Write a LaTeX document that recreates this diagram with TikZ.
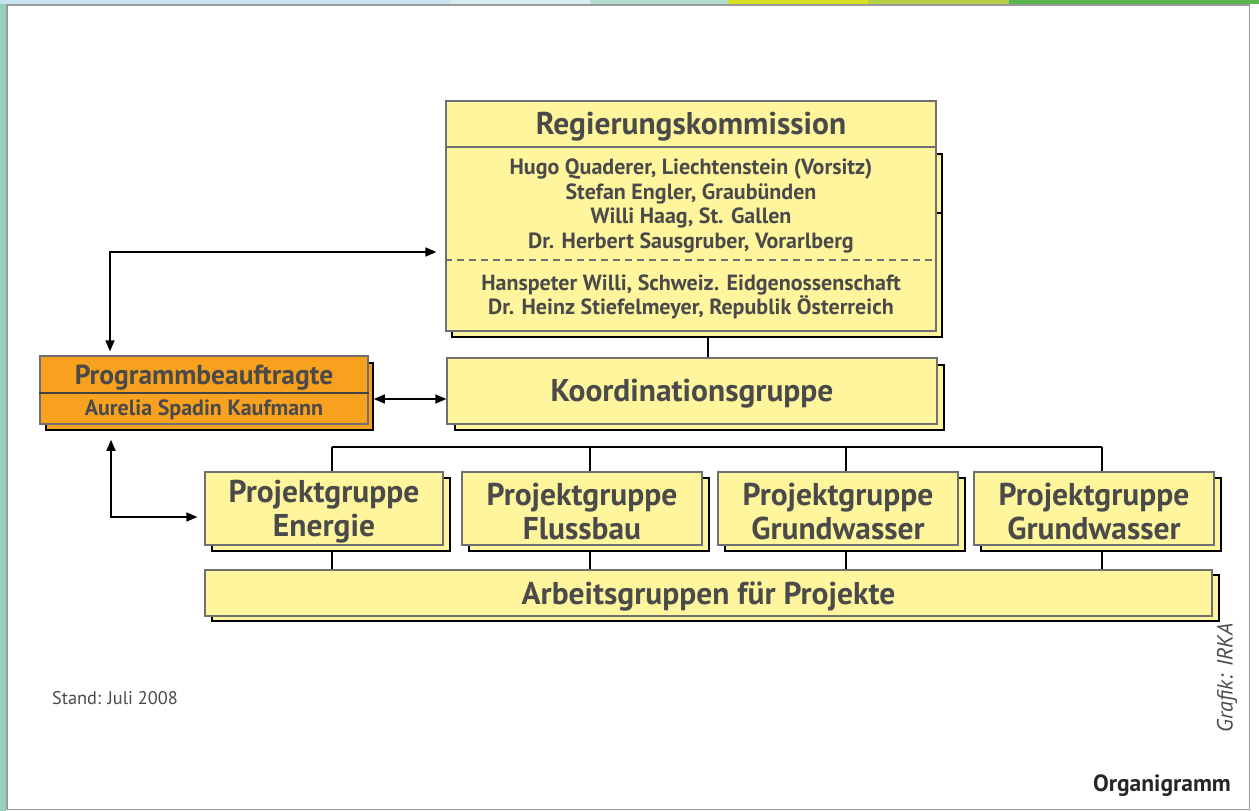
\documentclass[tikz,border=0pt]{standalone}
\usepackage{fontspec}
\setmainfont{PT Sans}
\usetikzlibrary{arrows.meta}

\definecolor{gelb}{HTML}{FFF59D}
\definecolor{progorange}{HTML}{F7A11E}
\definecolor{schrift}{HTML}{4A4A4A}
\definecolor{rand}{HTML}{707070}
\definecolor{rahmen}{HTML}{9A9A9A}
\definecolor{mint}{HTML}{99CFB6}
\definecolor{balken1}{HTML}{C8E4F2}
\definecolor{balken2}{HTML}{C7E3EE}
\definecolor{balken3}{HTML}{D9ECEF}
\definecolor{balken4}{HTML}{B2DCCB}
\definecolor{balken5}{HTML}{D7DF23}
\definecolor{balken6}{HTML}{B6CF44}
\definecolor{balken7}{HTML}{5BB54F}

\tikzset{
  kasten/.style={draw=rand, fill=gelb, line width=1.2pt, inner sep=0pt},
  schatten/.style={draw=black, fill=gelb, line width=1.6pt, inner sep=0pt},
  linie/.style={line width=1.5pt},
  gross/.style={font=\bfseries\fontsize{31.5}{34}\selectfont, text=schrift, align=center},
  mittel/.style={font=\bfseries\fontsize{27.5}{30}\selectfont, text=schrift},
  klein/.style={font=\bfseries\fontsize{22}{24.5}\selectfont, text=schrift, align=center},
}

\begin{document}
\begin{tikzpicture}[x=1pt, y=-1pt, >={Triangle[length=11pt,width=9pt]}]
		\useasboundingbox (0,0) rectangle (1259,811);
		
		%Rahmen
		\fill[mint] (0,0) rectangle (6,811);
		\foreach \a/\b/\f in {0/176/balken1,176/451/balken2,451/590/balken3,590/728/balken4,728/868/balken5,868/1009/balken6,1009/1259/balken7}
		\fill[\f] (\a,0) rectangle (\b,4);
		\draw[rahmen, line width=1.5pt] (7,5) rectangle (1249.5,809.5);
		
		%Regierungskommission
		\node[schatten, minimum width=490, minimum height=183] (sreg) at (697,245.5) {};
		\draw[line width=1.6pt] (936,213) -- (sreg.east |- 0,213);
		\node[kasten, minimum width=490, minimum height=230] (reg) at (691,216) {};
		\draw[rand, line width=1.2pt] (reg.west |- 0,147) -- (reg.east |- 0,147);
		\draw[rand, line width=1.2pt, dash pattern=on 7pt off 5pt] (reg.west |- 0,260) -- (reg.east |- 0,260);
		\node[gross] (regtitel) at (691,127) {Regierungskommission};
		\node[klein] (mitglieder) at (691,206) {Hugo Quaderer, Liechtenstein (Vorsitz)\\Stefan Engler, Graubünden\\Willi Haag, St. Gallen\\Dr. Herbert Sausgruber, Vorarlberg};
		\node[klein] (vertreter) at (691,297) {Hanspeter Willi, Schweiz. Eidgenossenschaft\\Dr. Heinz Stiefelmeyer, Republik Österreich};
		
		%Programmbeauftragte
		\node[schatten, fill=progorange, minimum width=327, minimum height=67] (sprog) at (209.5,396.5) {};
		\node[kasten, fill=progorange, minimum width=328, minimum height=68] (prog) at (204,390) {};
		\draw[rand!60!black, line width=1.2pt] (prog.west |- 0,393) -- (prog.east |- 0,393);
		\node[mittel] (progtitel) at (204,378) {Programmbeauftragte};
		\node[klein] (progname) at (204,410) {Aurelia Spadin Kaufmann};
		
		%Koordinationsgruppe
		\node[schatten, minimum width=489, minimum height=65] (skoord) at (699.5,397.5) {};
		\node[kasten, minimum width=490, minimum height=66] (koord) at (692,391) {};
		\node[gross] (koordtxt) at ([yshift=-3pt]koord.center) {Koordinationsgruppe};
		
		%Projektgruppen
		\node[schatten, minimum width=238, minimum height=73] (spg1) at (331,514.5) {};
		\node[kasten, minimum width=238, minimum height=73] (pg1) at (324,508.5) {};
		\node[gross] (pg1txt) at ([yshift=-3pt]pg1.center) {Projektgruppe\\Energie};
		\node[schatten, minimum width=240, minimum height=73] (spg2) at (589,514.5) {};
		\node[kasten, minimum width=240, minimum height=73] (pg2) at (582,508.5) {};
		\node[gross] (pg2txt) at ([yshift=-3pt]pg2.center) {Projektgruppe\\Flussbau};
		\node[schatten, minimum width=240, minimum height=73] (spg3) at (845,514.5) {};
		\node[kasten, minimum width=240, minimum height=73] (pg3) at (838,508.5) {};
		\node[gross] (pg3txt) at ([yshift=-3pt]pg3.center) {Projektgruppe\\Grundwasser};
		\node[schatten, minimum width=240, minimum height=73] (spg4) at (1101,514.5) {};
		\node[kasten, minimum width=240, minimum height=73] (pg4) at (1094,508.5) {};
		\node[gross] (pg4txt) at ([yshift=-3pt]pg4.center) {Projektgruppe\\Grundwasser};
		
		%Arbeitsgruppen
		\node[schatten, minimum width=1007, minimum height=46] (sarb) at (715.5,598) {};
		\node[kasten, minimum width=1007, minimum height=46] (arb) at (708.5,593) {};
		\node[gross] (arbtxt) at ([yshift=-3pt]arb.center) {Arbeitsgruppen für Projekte};
		
		%Linien
		\draw[linie] ([xshift=11pt]sreg.south) -- ([xshift=11pt]sreg.south |- koord.north);
		\coordinate (bus) at (0,447);
		\draw[linie] ([xshift=8pt]pg1.north |- bus) -- ([xshift=8pt]pg4.north |- bus);
		\foreach \p in {pg1,pg2,pg3,pg4}{
			\draw[linie] ([xshift=8pt]\p.north |- bus) -- ([xshift=8pt]\p.north);
			\draw[linie] ([xshift=1pt]s\p.south) -- ([xshift=1pt]s\p.south |- arb.north);
		}
		
		%Pfeile
		\coordinate (knick1) at (110,252);
		\draw[linie, <->, shorten <=4pt, shorten >=9pt] (prog.north -| knick1) -- (knick1) -- (knick1 -| reg.west);
		\draw[linie, <->] (sprog.east |- 0,399) -- (koord.west |- 0,399);
		\coordinate (knick2) at (111,517);
		\draw[linie, <->, shorten <=9pt, shorten >=7pt] (sprog.south -| knick2) -- (knick2) -- (knick2 -| pg1.west);
		
		%Fusszeile
		\node[font=\fontsize{18.3}{20}\selectfont, text=schrift] (stand) at (115,698) {Stand: Juli 2008};
		\node[font=\bfseries\fontsize{23.5}{26}\selectfont, text=black!85] (organigramm) at (1162,786) {Organigramm};
		\node[font=\itshape\fontsize{22}{24}\selectfont, text=schrift, rotate=90] (grafik) at (1227,678) {Grafik: IRKA};
	\end{tikzpicture}
\end{document}
